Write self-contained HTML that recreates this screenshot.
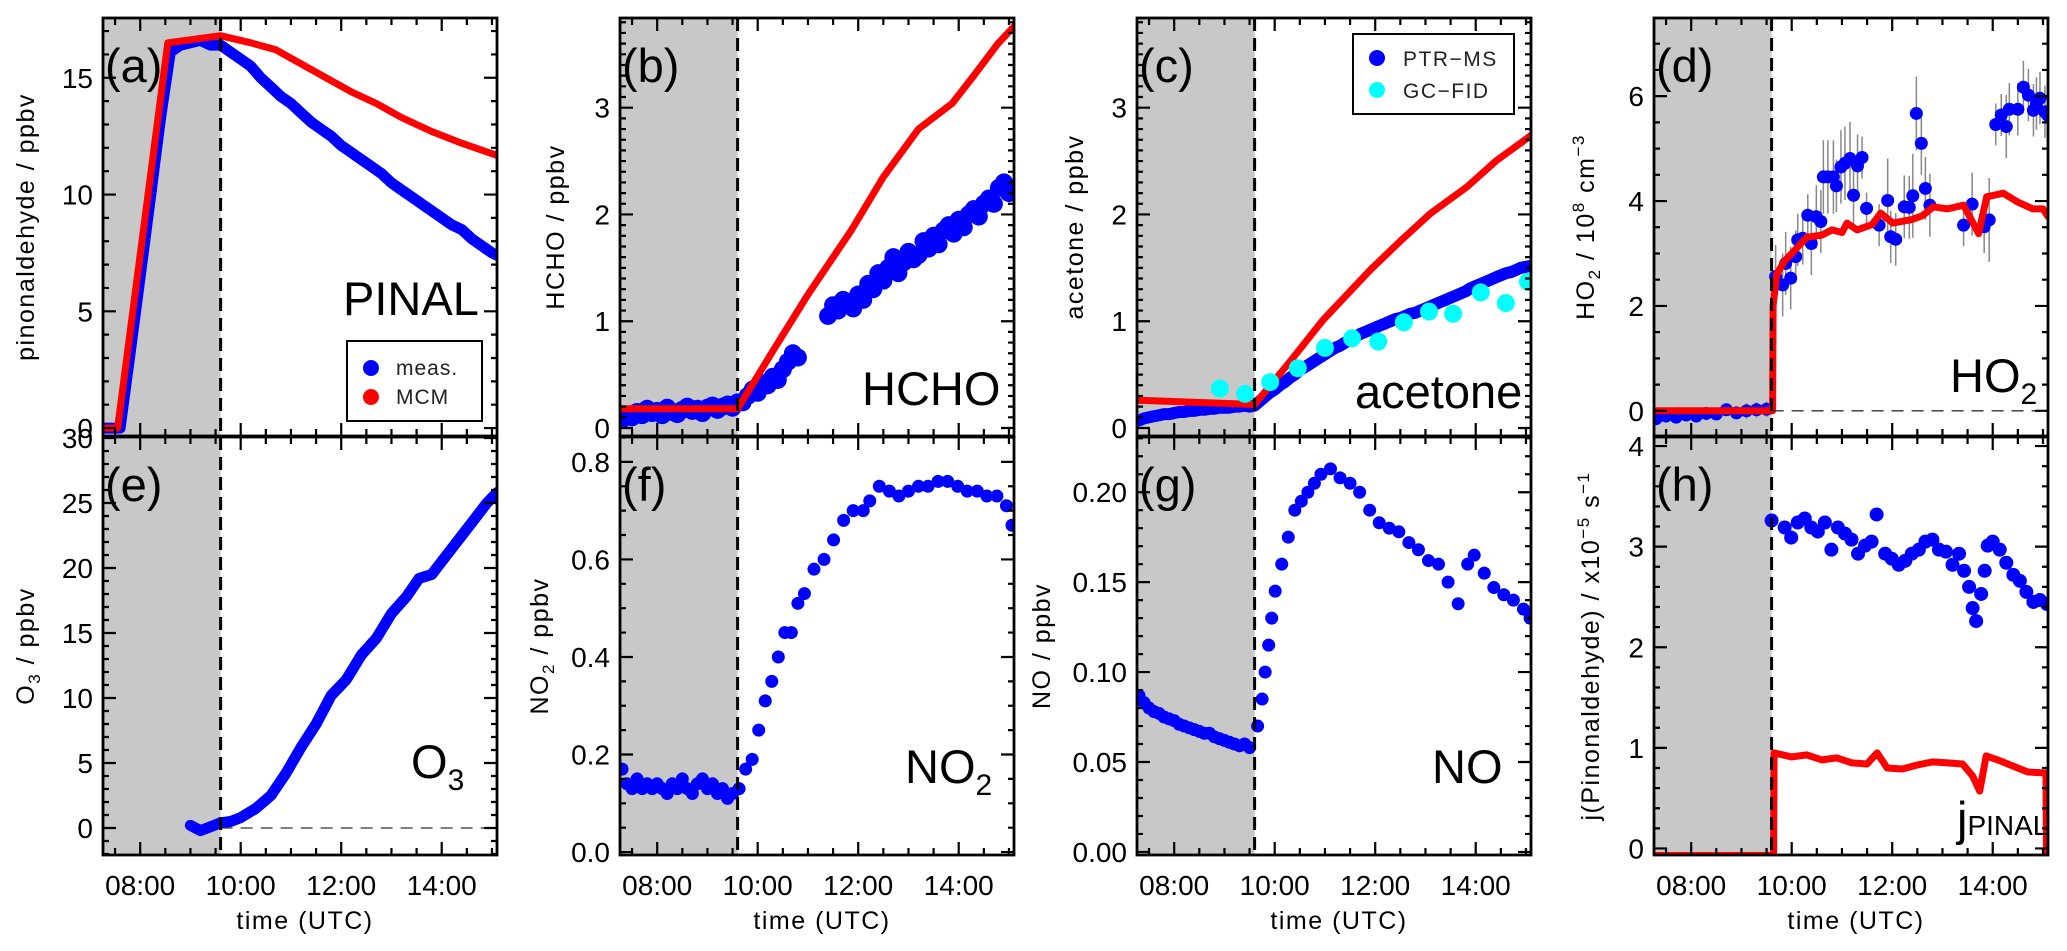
<!DOCTYPE html>
<html><head><meta charset="utf-8">
<style>
html,body{margin:0;padding:0;background:#fff;}
svg{display:block;font-family:"Liberation Sans",Arial,sans-serif;}
</style></head>
<body>
<svg id="fig" width="2067" height="951" viewBox="0 0 2067 951" xmlns="http://www.w3.org/2000/svg"></svg>
<script>
// ---------------- data (time in decimal hours UTC) ----------------
const xTickLabels = ["08:00","10:00","12:00","14:00"];
const xTickHours = [8,10,12,14];
const lightsOn = 9.6;

// (a) pinonaldehyde
const aMeasT = [7.26,7.6,7.8,8.0,8.2,8.4,8.6,8.8,9.0,9.2,9.4,9.6,9.8,10.0,10.2,10.4,10.6,10.8,11.0,11.2,11.4,11.6,11.8,12.0,12.2,12.4,12.6,12.8,13.0,13.2,13.4,13.6,13.8,14.0,14.2,14.4,14.6,14.8,15.0,15.1];
const aMeasV = [0,0,3.2,6.5,9.8,13.2,16.1,16.4,16.5,16.6,16.4,16.4,16.1,15.8,15.5,15.0,14.6,14.2,13.9,13.5,13.1,12.8,12.5,12.1,11.8,11.5,11.2,10.9,10.5,10.2,9.9,9.6,9.3,9.0,8.7,8.5,8.1,7.8,7.5,7.4];
const aMcmT = [7.26,7.55,8.55,9.6,10.2,10.7,11.2,11.7,12.2,12.7,13.2,13.8,14.4,15.1];
const aMcmV = [0,0,16.5,16.8,16.5,16.2,15.6,15.0,14.4,13.9,13.3,12.7,12.2,11.67];

// (b) HCHO
const bMeasT = [7.3,7.4,7.5,7.6,7.7,7.8,7.9,8.0,8.1,8.2,8.3,8.4,8.5,8.6,8.7,8.8,8.9,9.0,9.1,9.2,9.3,9.4,9.5,9.6,
 9.7,9.8,9.9,10.0,10.1,10.2,10.3,10.4,10.5,10.6,10.7,10.8,
 11.4,11.5,11.6,11.7,11.8,11.9,12.0,12.1,12.2,12.3,12.4,12.5,12.6,12.7,12.8,12.9,13.0,13.1,13.2,13.3,13.4,13.5,13.6,13.7,13.8,13.9,14.0,14.1,14.2,14.3,14.4,14.5,14.6,14.7,14.8,14.9,15.0,15.1];
const bMeasV = [0.08,0.12,0.10,0.15,0.12,0.18,0.14,0.16,0.12,0.19,0.15,0.13,0.17,0.20,0.16,0.18,0.14,0.19,0.21,0.17,0.20,0.22,0.19,0.24,
 0.24,0.30,0.36,0.33,0.42,0.40,0.48,0.45,0.55,0.62,0.70,0.66,
 1.05,1.15,1.10,1.20,1.18,1.12,1.25,1.20,1.35,1.30,1.45,1.38,1.50,1.60,1.45,1.55,1.65,1.58,1.62,1.75,1.68,1.80,1.72,1.85,1.90,1.82,1.95,1.88,2.00,2.05,1.98,2.10,2.15,2.10,2.25,2.30,2.20,2.25];
const bMcmT = [7.26,9.6,10.3,11.0,11.86,12.5,13.2,13.87,14.3,14.78,15.1];
const bMcmV = [0.18,0.18,0.72,1.25,1.85,2.35,2.8,3.04,3.3,3.6,3.76];

// (c) acetone
const cPtrT = [7.3,7.4,7.5,7.6,7.7,7.8,7.9,8.0,8.1,8.2,8.3,8.4,8.5,8.6,8.7,8.8,8.9,9.0,9.1,9.2,9.3,9.4,9.5,9.6,
 9.7,9.8,9.9,10.0,10.1,10.2,10.3,10.4,10.5,10.6,10.7,10.8,10.9,11.0,11.1,11.2,11.3,11.4,11.5,11.6,11.7,11.8,11.9,12.0,12.1,12.2,12.3,12.4,12.5,12.6,12.7,12.8,12.9,13.0,13.1,13.2,13.3,13.4,13.5,13.6,13.7,13.8,13.9,14.0,14.1,14.2,14.3,14.4,14.5,14.6,14.7,14.8,14.9,15.0,15.1];
const cPtrV = [0.07,0.09,0.10,0.11,0.12,0.13,0.13,0.14,0.15,0.15,0.16,0.16,0.17,0.17,0.18,0.18,0.19,0.19,0.19,0.20,0.20,0.21,0.20,0.21,
 0.25,0.29,0.33,0.36,0.40,0.43,0.47,0.50,0.54,0.57,0.60,0.63,0.66,0.69,0.72,0.75,0.77,0.80,0.82,0.85,0.88,0.90,0.92,0.94,0.96,0.98,1.00,1.02,1.03,1.05,1.07,1.08,1.10,1.12,1.14,1.16,1.18,1.20,1.22,1.24,1.26,1.28,1.31,1.33,1.35,1.37,1.39,1.41,1.43,1.45,1.46,1.48,1.50,1.51,1.52];
const cGcT = [8.91,9.41,9.91,10.46,11.0,11.54,12.06,12.57,13.07,13.55,14.1,14.6,15.04];
const cGcV = [0.37,0.32,0.43,0.56,0.75,0.84,0.81,0.99,1.09,1.07,1.27,1.17,1.37];
const cMcmT = [7.26,9.6,10.3,10.96,11.9,12.5,13.1,13.83,14.4,15.1];
const cMcmV = [0.26,0.22,0.62,1.01,1.48,1.75,2.01,2.26,2.5,2.74];

// (d) HO2
const dMeasT = [7.3,7.5,7.7,7.9,8.1,8.3,8.5,8.7,8.9,9.1,9.3,9.5,
 9.68,9.82,9.88,9.98,10.08,10.12,10.22,10.32,10.39,10.49,10.58,10.63,10.72,10.83,10.89,10.98,11.06,11.16,11.23,11.31,11.40,11.49,11.74,11.91,11.97,12.07,12.24,12.34,12.41,12.48,12.58,12.66,12.75,13.42,13.59,13.83,13.93,14.06,14.17,14.27,14.33,14.50,14.61,14.71,14.81,14.87,14.94,15.04,15.09];
const dMeasV = [-0.15,-0.10,-0.12,-0.08,-0.10,-0.05,-0.06,0.02,-0.04,0.0,0.02,0.03,
 2.56,2.40,2.81,2.53,2.94,3.26,3.29,3.73,3.19,3.70,3.61,4.46,4.46,4.46,4.29,4.65,4.72,4.81,4.11,4.67,4.83,3.86,3.54,4.01,3.32,3.27,3.89,3.88,4.10,5.67,5.10,4.24,3.92,3.54,3.94,3.51,3.64,5.46,5.64,5.42,5.75,5.75,6.17,6.02,5.73,5.86,5.96,5.70,5.64];
const dMeasErr = [0.1,0.1,0.1,0.1,0.1,0.1,0.1,0.1,0.1,0.15,0.15,0.15,
 0.6,0.6,0.6,0.6,0.5,0.5,0.5,0.4,0.6,0.6,0.6,0.7,0.7,0.7,0.5,0.7,0.7,0.7,0.6,0.6,0.4,0.3,0.4,0.8,0.5,0.5,0.6,0.6,0.8,0.7,0.6,0.6,0.6,0.4,0.6,0.5,0.8,0.4,0.4,0.6,0.5,0.5,0.5,0.5,0.5,0.5,0.5,0.5,0.6];
const dMcmT = [7.26,9.62,9.63,9.7,9.85,10.0,10.3,10.6,10.8,11.0,11.1,11.3,11.6,11.77,12.01,12.4,12.6,12.82,13.1,13.42,13.72,13.88,14.21,14.5,14.8,15.0,15.1];
const dMcmV = [0,0,2.0,2.6,2.85,3.0,3.31,3.35,3.45,3.4,3.58,3.45,3.55,3.77,3.58,3.65,3.72,3.89,3.85,3.92,3.38,4.08,4.15,3.98,3.85,3.85,3.7];

// (e) O3
const eMeasT = [9.0,9.2,9.4,9.6,9.8,10.0,10.3,10.6,10.9,11.2,11.5,11.8,12.1,12.4,12.7,13.0,13.3,13.55,13.8,14.0,14.3,14.6,14.9,15.1];
const eMeasV = [0.2,-0.2,0.1,0.4,0.5,0.8,1.5,2.5,4.2,6.2,8.0,10.2,11.4,13.3,14.6,16.5,17.8,19.2,19.5,20.5,22.0,23.5,25.0,25.8];

// (f) NO2
const fMeasT = [7.3,7.4,7.5,7.6,7.7,7.8,7.9,8.0,8.1,8.2,8.3,8.4,8.5,8.6,8.7,8.8,8.9,9.0,9.1,9.2,9.3,9.4,9.5,
 9.63,9.76,9.89,10.02,10.15,10.28,10.41,10.54,10.67,10.80,10.93,11.12,11.32,11.51,11.71,11.90,12.10,12.23,12.42,12.62,12.81,13.0,13.2,13.39,13.59,13.78,13.98,14.17,14.37,14.56,14.76,14.95,15.06];
const fMeasV = [0.17,0.14,0.13,0.15,0.13,0.14,0.13,0.14,0.13,0.12,0.14,0.13,0.15,0.13,0.12,0.14,0.15,0.13,0.14,0.12,0.13,0.11,0.12,
 0.13,0.17,0.19,0.25,0.31,0.35,0.40,0.45,0.45,0.51,0.53,0.58,0.60,0.64,0.68,0.70,0.70,0.72,0.75,0.74,0.73,0.74,0.75,0.75,0.76,0.76,0.75,0.74,0.74,0.73,0.73,0.71,0.67];

// (g) NO
const gMeasT = [7.3,7.4,7.5,7.6,7.7,7.8,7.9,8.0,8.1,8.2,8.3,8.4,8.5,8.6,8.7,8.8,8.9,9.0,9.1,9.2,9.3,9.4,9.5,
 9.66,9.75,9.81,9.88,9.94,10.01,10.14,10.27,10.40,10.53,10.66,10.79,10.92,11.11,11.30,11.50,11.69,11.89,12.08,12.28,12.47,12.67,12.86,13.06,13.26,13.45,13.65,13.84,13.97,14.17,14.36,14.56,14.75,14.95,15.08];
const gMeasV = [0.087,0.083,0.080,0.078,0.077,0.075,0.074,0.073,0.071,0.070,0.069,0.068,0.067,0.066,0.066,0.064,0.063,0.062,0.061,0.060,0.059,0.060,0.058,
 0.070,0.085,0.100,0.115,0.130,0.145,0.160,0.175,0.190,0.195,0.200,0.205,0.210,0.213,0.208,0.205,0.200,0.190,0.183,0.180,0.178,0.172,0.168,0.162,0.160,0.150,0.138,0.160,0.165,0.155,0.147,0.143,0.140,0.135,0.130];

// (h) j(PINAL)
const hMeasT = [9.60,9.86,9.99,10.12,10.26,10.39,10.52,10.66,10.79,10.92,11.06,11.19,11.32,11.46,11.59,11.69,11.86,11.99,12.13,12.26,12.39,12.53,12.66,12.80,12.93,13.07,13.20,13.33,13.43,13.53,13.60,13.67,13.77,13.84,13.90,14.00,14.14,14.27,14.41,14.54,14.67,14.81,14.94,15.08];
const hMeasV = [3.26,3.19,3.09,3.24,3.28,3.19,3.15,3.24,2.97,3.19,3.13,3.07,2.93,3.01,3.05,3.32,2.93,2.88,2.82,2.86,2.93,2.97,3.05,3.07,2.97,2.95,2.82,2.93,2.76,2.60,2.39,2.26,2.53,2.76,3.01,3.05,2.97,2.84,2.72,2.66,2.55,2.45,2.47,2.43];
const hMcmT = [7.26,9.64,9.65,10.0,10.3,10.6,10.9,11.2,11.5,11.7,11.9,12.2,12.5,12.8,13.1,13.4,13.6,13.74,13.87,14.1,14.4,14.7,15.06,15.07];
const hMcmV = [-0.07,-0.07,0.95,0.91,0.93,0.88,0.90,0.85,0.84,0.95,0.80,0.79,0.83,0.86,0.85,0.84,0.72,0.57,0.92,0.88,0.82,0.76,0.75,-0.07];

// ---------------- drawing ----------------
const NS="http://www.w3.org/2000/svg";
const svg=document.getElementById('fig');
const X0=7.26, X1=15.1, PW=394;
function el(tag,attrs,parent){const e=document.createElementNS(NS,tag);for(const k in attrs)e.setAttribute(k,attrs[k]);(parent||svg).appendChild(e);return e;}

function makePanel(id,col,row,ymin,ymax,yMajors,yLabels,yMinor,yTitle,titleX,letter){
  const L=103+517*col, R=L+PW;
  const T=row===0?18:437, B=row===0?436:855;
  const g=el('g',{});
  
  
  const sx=t=>L+(t-X0)/(X1-X0)*(R-L);
  const sy=v=>B-(v-ymin)/(ymax-ymin)*(B-T);
  const cp=el('clipPath',{id:'clip-'+id},g);
  el('rect',{x:L,y:T,width:R-L,height:B-T},cp);
  const shade=el('rect',{x:L,y:T,width:sx(lightsOn)-L,height:B-T,fill:'#c8c8c8'},g);
  
  
  const data=el('g',{'clip-path':'url(#clip-'+id+')'},g);
  
  
  const yt=el('text',{x:titleX,y:(T+B)/2,'font-size':25,'text-anchor':'middle',transform:'rotate(-90 '+titleX+' '+(T+B)/2+')','letter-spacing':'1.5'},g);
  yt.innerHTML=yTitle;
  
  
  yMajors.forEach((v,i)=>{
    const tl=el('text',{x:L-10,y:sy(v)+10,'font-size':28,'text-anchor':'end'},g);
    tl.textContent=yLabels[i];
    
    
  });
  if(row===1){
    xTickHours.forEach((h,i)=>{
      const tl=el('text',{x:sx(h),y:B+40,'font-size':28,'text-anchor':'middle'},g);
      tl.textContent=xTickLabels[i];
      
      
    });
    const xt=el('text',{x:(L+R)/2+5,y:B+74,'font-size':25,'text-anchor':'middle','letter-spacing':'1.5'},g);
    xt.textContent='time (UTC)';
    
    
  }
  const lab=el('text',{x:L+2,y:T+64,'font-size':47},g);
  lab.textContent=letter;
  
  
  return {g,data,sx,sy,L,R,T,B,ymin,ymax,yMajors,yMinor};
}
function finishPanel(p,zeroLine){
  const {g,sx,sy,L,R,T,B}=p;
  if(zeroLine){const z=el('line',{x1:sx(lightsOn),x2:R,y1:sy(0),y2:sy(0),stroke:'#333','stroke-width':1.3,'stroke-dasharray':'12,8'},g);
    }
  const dl=el('line',{x1:sx(lightsOn),x2:sx(lightsOn),y1:T,y2:B,stroke:'#000','stroke-width':3,'stroke-dasharray':'13,7'},g);
  
  
  let d='';
  for(let h=7.5;h<=15.01;h+=0.5){const x=sx(h);const len=(Math.abs(h%2)<0.01)?13:7;d+=`M${x},${B}v${-len}M${x},${T}v${len}`;}
  const eps=1e-6;
  for(let v=Math.ceil(p.ymin/p.yMinor)*p.yMinor;v<=p.ymax+eps;v+=p.yMinor){
    const y=sy(v);const maj=p.yMajors.some(m=>Math.abs(m-v)<p.yMinor/2);const len=maj?13:6;
    d+=`M${L},${y}h${len}M${R},${y}h${-len}`;}
  const tk=el('path',{d,stroke:'#000','stroke-width':2.2,fill:'none'},g);
  
  
  const fr=el('rect',{x:L,y:T,width:R-L,height:B-T,fill:'none',stroke:'#000','stroke-width':2.8},g);
  
  
}
function line(p,ts,vs,color,w,name){
  const pts=ts.map((t,i)=>p.sx(t).toFixed(1)+','+p.sy(vs[i]).toFixed(1)).join(' ');
  const l=el('polyline',{points:pts,fill:'none',stroke:color,'stroke-width':w,'stroke-linejoin':'round','stroke-linecap':'round'},p.data);
  
  
}
function dots(p,ts,vs,color,r,name){
  ts.forEach((t,i)=>{
    const c=el('circle',{cx:p.sx(t),cy:p.sy(vs[i]),r,fill:color},p.data);
    
    
  });
}
function bigLabel(p,x,y,html,name){
  const t=el('text',{x,y,'font-size':47},p.g);
  t.innerHTML=html;
  
  
}
const BLUE='#0000ff', RED='#ff0000', CYAN='#00ffff';

// (a)
const pa=makePanel('a',0,0,-0.34,17.56,[0,5,10,15],['0','5','10','15'],1,'pinonaldehyde / ppbv',34,'(a)');
line(pa,aMeasT,aMeasV,BLUE,11,'pinal-meas-series');
line(pa,aMcmT,aMcmV,RED,7,'pinal-mcm-line');
bigLabel(pa,343,315,'PINAL','species-label-pinal');
finishPanel(pa,false);
{const lg=el('g',{},pa.g);
 el('rect',{x:347,y:341,width:135,height:80,fill:'#fff',stroke:'#000','stroke-width':2},lg);
 const c1=el('circle',{cx:371,cy:368,r:8,fill:BLUE},lg);
 const c2=el('circle',{cx:371,cy:397,r:8,fill:RED},lg);
 const t1=el('text',{x:396,y:375,'font-size':21,fill:'#222','letter-spacing':'1'},lg);t1.textContent='meas.';
 const t2=el('text',{x:396,y:404,'font-size':21,fill:'#222','letter-spacing':'1'},lg);t2.textContent='MCM';}

// (b)
const pb=makePanel('b',1,0,-0.075,3.84,[0,1,2,3],['0','1','2','3'],0.1,'HCHO / ppbv',564,'(b)');
dots(pb,bMeasT,bMeasV,BLUE,9,'hcho-meas-point');
line(pb,bMcmT,bMcmV,RED,7,'hcho-mcm-line');
bigLabel(pb,862,405,'HCHO','species-label-hcho');
finishPanel(pb,false);

// (c)
const pc=makePanel('c',2,0,-0.075,3.84,[0,1,2,3],['0','1','2','3'],0.1,'acetone / ppbv',1083,'(c)');
line(pc,cPtrT,cPtrV,BLUE,12,'acetone-ptrms-series');
line(pc,cMcmT,cMcmV,RED,7,'acetone-mcm-line');
dots(pc,cGcT,cGcV,CYAN,9,'acetone-gcfid-point');
bigLabel(pc,1355,408,'acetone','species-label-acetone');
finishPanel(pc,false);
{const lg=el('g',{},pc.g);
 el('rect',{x:1353,y:34,width:161,height:80,fill:'#fff',stroke:'#000','stroke-width':2},lg);
 const c1=el('circle',{cx:1377,cy:58,r:8,fill:BLUE},lg);
 const c2=el('circle',{cx:1377,cy:90,r:8,fill:CYAN},lg);
 const t1=el('text',{x:1403,y:66,'font-size':21,fill:'#222','letter-spacing':'1.5'},lg);t1.textContent='PTR\u2212MS';
 const t2=el('text',{x:1403,y:98,'font-size':21,fill:'#222','letter-spacing':'1.5'},lg);t2.textContent='GC\u2212FID';}

// (d)
const pd=makePanel('d',3,0,-0.48,7.49,[0,2,4,6],['0','2','4','6'],0.5,'HO<tspan font-size="17" dy="6">2</tspan><tspan dy="-6"> / 10</tspan><tspan font-size="17" dy="-10">8</tspan><tspan dy="10"> cm</tspan><tspan font-size="17" dy="-10">\u22123</tspan>',1594,'(d)');
dMeasT.forEach((t,i)=>{
  const e=el('line',{x1:pd.sx(t),x2:pd.sx(t),y1:pd.sy(dMeasV[i]-dMeasErr[i]),y2:pd.sy(dMeasV[i]+dMeasErr[i]),stroke:'#888','stroke-width':1.5},pd.data);
  
  
});
dots(pd,dMeasT,dMeasV,BLUE,6.5,'ho2-meas-point');
line(pd,dMcmT,dMcmV,RED,7,'ho2-mcm-line');
bigLabel(pd,1950,392,'HO<tspan font-size="30" dy="12">2</tspan>','species-label-ho2');
finishPanel(pd,true);

// (e)
const pe=makePanel('e',0,1,-2.08,30.08,[0,5,10,15,20,25,30],['0','5','10','15','20','25','30'],1,'O<tspan font-size="17" dy="6">3</tspan><tspan dy="-6"> / ppbv</tspan>',34,'(e)');
line(pe,eMeasT,eMeasV,BLUE,11,'o3-meas-series');
bigLabel(pe,411,778,'O<tspan font-size="30" dy="12">3</tspan>','species-label-o3');
finishPanel(pe,true);

// (f)
const pf=makePanel('f',1,1,-0.006,0.851,[0,0.2,0.4,0.6,0.8],['0.0','0.2','0.4','0.6','0.8'],0.05,'NO<tspan font-size="17" dy="6">2</tspan><tspan dy="-6"> / ppbv</tspan>',548,'(f)');
dots(pf,fMeasT,fMeasV,BLUE,6.5,'no2-meas-point');
bigLabel(pf,905,783,'NO<tspan font-size="30" dy="12">2</tspan>','species-label-no2');
finishPanel(pf,false);

// (g)
const pg=makePanel('g',2,1,-0.0017,0.2307,[0,0.05,0.1,0.15,0.2],['0.00','0.05','0.10','0.15','0.20'],0.01,'NO / ppbv',1050,'(g)');
dots(pg,gMeasT,gMeasV,BLUE,6.5,'no-meas-point');
bigLabel(pg,1432,783,'NO','species-label-no');
finishPanel(pg,false);

// (h)
const ph=makePanel('h',3,1,-0.065,4.09,[0,1,2,3,4],['0','1','2','3','4'],0.2,'j(Pinonaldehyde) / x10<tspan font-size="17" dy="-10">\u22125</tspan><tspan dy="10"> s</tspan><tspan font-size="17" dy="-10">\u22121</tspan>',1599,'(h)');
dots(ph,hMeasT,hMeasV,BLUE,7,'jpinal-meas-point');
line(ph,hMcmT,hMcmV,RED,7,'jpinal-model-line');
bigLabel(ph,1957,835,'j<tspan font-size="28">PINAL</tspan>','species-label-jpinal');
finishPanel(ph,false);
</script>
</body></html>
